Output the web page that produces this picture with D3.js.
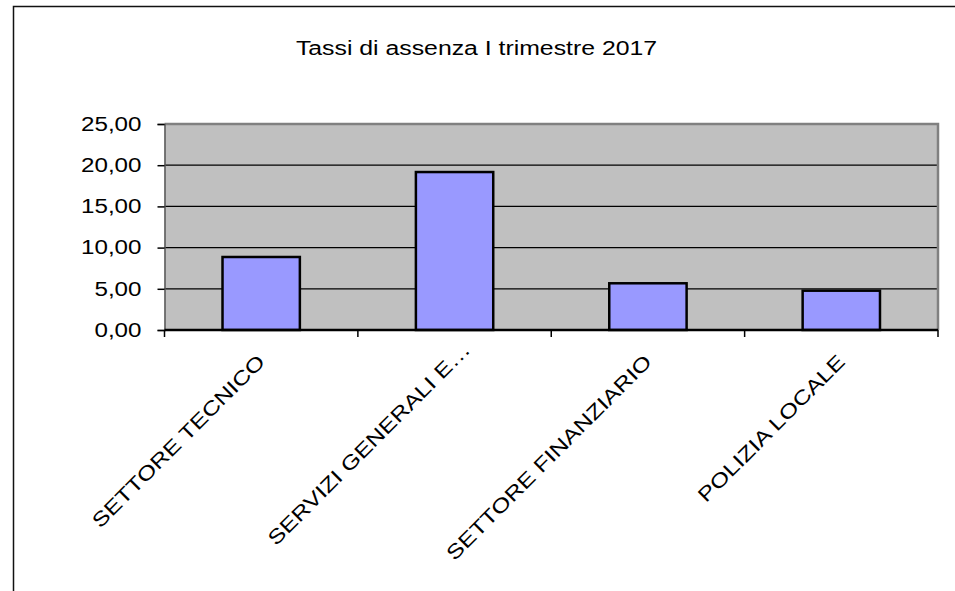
<!DOCTYPE html>
<html>
<head>
<meta charset="utf-8">
<script src="https://cdn.jsdelivr.net/npm/d3@7"></script>
<style>
  body { margin: 0; background: #fff; }
  text { font-family: "Liberation Sans", Arial, sans-serif; fill: #000; }
</style>
</head>
<body>
<div id="plot"></div>
<script>
// chart data
const categories = ["SETTORE TECNICO", "SERVIZI GENERALI E\u2026", "SETTORE FINANZIARIO", "POLIZIA LOCALE"];
const values = [8.86, 19.17, 5.67, 4.77];
const yTicks = [0, 5, 10, 15, 20, 25];
const title = "Tassi di assenza I trimestre 2017";

// the original text looks stretched sideways
const stretch = 1.24;

const W = 955, H = 591;
const margin = { top: 124, right: 17, bottom: 261, left: 164.5 },
      width = W - margin.left - margin.right,
      height = H - margin.top - margin.bottom;

const svg = d3.select("div#plot")
  .append("svg")
  .attr("width", W)
  .attr("height", H);

// outer chart frame (runs off the right and bottom edges)
svg.append("rect")
  .attr("x", 13.5).attr("y", 6.5)
  .attr("width", 1000).attr("height", 700)
  .attr("fill", "none")
  .attr("stroke", "#111")
  .attr("stroke-width", 1.5);

function fitText(sel) {
  sel.each(function () {
    const len = this.getComputedTextLength();
    d3.select(this)
      .attr("textLength", len * stretch)
      .attr("lengthAdjust", "spacingAndGlyphs");
  });
}

// title
svg.append("text")
  .attr("x", 476.5)
  .attr("y", 55)
  .attr("text-anchor", "middle")
  .style("font-size", "20px")
  .text(title)
  .call(fitText);

const g = svg.append("g")
  .attr("transform", `translate(${margin.left},${margin.top})`);

const x = d3.scaleBand()
  .domain(categories)
  .range([0, width])
  .paddingInner(0.6)
  .paddingOuter(0.3);

const y = d3.scaleLinear()
  .domain([0, 25])
  .range([height, 0]);

// plot area
g.append("rect")
  .attr("width", width)
  .attr("height", height)
  .attr("fill", "#c0c0c0");

// gridlines
g.selectAll(".grid")
  .data(yTicks.filter(d => d > 0 && d < 25))
  .enter()
  .append("line")
  .attr("class", "grid")
  .attr("x1", 0).attr("x2", width)
  .attr("y1", d => y(d)).attr("y2", d => y(d))
  .attr("stroke", "#000")
  .attr("stroke-width", 1.2);

// top and right borders of plot area
g.append("path")
  .attr("d", `M0,${y(25)}H${width}V${height}`)
  .attr("fill", "none")
  .attr("stroke", "#808080")
  .attr("stroke-width", 2.5);

// bars
g.selectAll(".bar")
  .data(values)
  .enter()
  .append("rect")
  .attr("class", "bar")
  .attr("x", (d, i) => x(categories[i]))
  .attr("y", d => y(d))
  .attr("width", x.bandwidth())
  .attr("height", d => height - y(d))
  .attr("fill", "#9999ff")
  .attr("stroke", "#000")
  .attr("stroke-width", 2.5);

// y axis
const fmt = d => d3.format(".2f")(d).replace(".", ",");
const yAxis = g.append("g")
  .call(d3.axisLeft(y).tickValues(yTicks).tickFormat(fmt).tickSize(7).tickPadding(16));
yAxis.select(".domain").attr("stroke", "#555").attr("stroke-width", 1.5);
yAxis.selectAll(".tick line").attr("stroke", "#000").attr("stroke-width", 1.5);
yAxis.selectAll(".tick text")
  .style("font-size", "19.5px")
  .style("font-family", "'Liberation Sans', Arial, sans-serif")
  .attr("fill", "#000")
  .call(fitText);

// x axis: ticks at category boundaries
const bounds = d3.range(categories.length + 1).map(i => i * x.step());
const xAxis = g.append("g").attr("transform", `translate(0,${height})`);
xAxis.append("line")
  .attr("x1", 0).attr("x2", width)
  .attr("stroke", "#000")
  .attr("stroke-width", 2.5);
xAxis.selectAll(".xtick")
  .data(bounds)
  .enter()
  .append("line")
  .attr("class", "xtick")
  .attr("x1", d => d).attr("x2", d => d)
  .attr("y1", 0).attr("y2", 7)
  .attr("stroke", "#000")
  .attr("stroke-width", 1.5);

// rotated category labels (the truncated one sits a bit further out, like Excel does)
xAxis.selectAll(".xlabel")
  .data(categories)
  .enter()
  .append("text")
  .attr("class", "xlabel")
  .attr("transform", d => {
    const shift = d.endsWith("\u2026") ? 12 : 0;
    return `translate(${x(d) + x.bandwidth() / 2 + 5 + shift},${33 - shift}) rotate(-45)`;
  })
  .attr("text-anchor", "end")
  .style("font-size", "20px")
  .text(d => d)
  .call(fitText);
</script>
</body>
</html>
